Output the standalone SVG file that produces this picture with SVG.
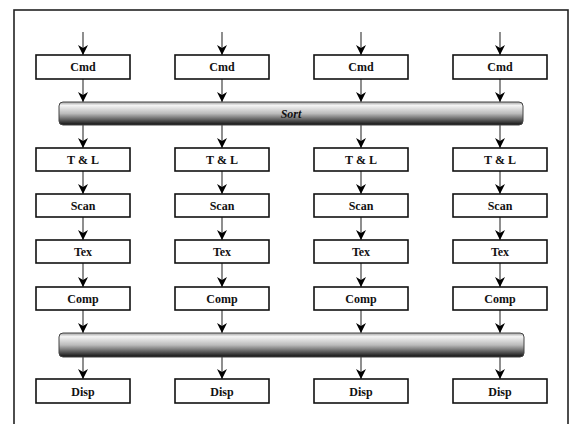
<svg xmlns="http://www.w3.org/2000/svg" width="575" height="424" viewBox="0 0 575 424">
<style>
.box{fill:#fff;stroke:#111;stroke-width:1.6}
.lbl{font-family:'Liberation Serif','DejaVu Serif',serif;font-weight:bold;font-size:12px;fill:#111;text-anchor:middle}
.bar{fill:url(#g);stroke:#444;stroke-width:1}
.c line{stroke:#444;stroke-width:1.2;marker-end:url(#ah)}
</style>
<defs>
<linearGradient id="g" x1="0" y1="0" x2="0" y2="1">
<stop offset="0" stop-color="#a0a0a0"/>
<stop offset="0.15" stop-color="#f4f4f4"/>
<stop offset="0.5" stop-color="#bbbbbb"/>
<stop offset="1" stop-color="#101010"/>
</linearGradient>
<marker id="ah" viewBox="0 0 10 10" refX="10" refY="5" markerWidth="10" markerHeight="10" markerUnits="userSpaceOnUse" orient="auto">
<path d="M0,0 L10,5 L0,10 L3,5 Z" fill="#000"/>
</marker>
</defs>
<rect x="14" y="10" width="554" height="430" fill="#fff" stroke="#222" stroke-width="1.6"/>
<g id="connectors" class="c">
<line x1="83" y1="32" x2="83" y2="55"/><line x1="222" y1="32" x2="222" y2="55"/><line x1="361" y1="32" x2="361" y2="55"/><line x1="500" y1="32" x2="500" y2="55"/>
<line x1="83" y1="79" x2="83" y2="102"/><line x1="222" y1="79" x2="222" y2="102"/><line x1="361" y1="79" x2="361" y2="102"/><line x1="500" y1="79" x2="500" y2="102"/>
<line x1="83" y1="125" x2="83" y2="148"/><line x1="222" y1="125" x2="222" y2="148"/><line x1="361" y1="125" x2="361" y2="148"/><line x1="500" y1="125" x2="500" y2="148"/>
<line x1="83" y1="171" x2="83" y2="194"/><line x1="222" y1="171" x2="222" y2="194"/><line x1="361" y1="171" x2="361" y2="194"/><line x1="500" y1="171" x2="500" y2="194"/>
<line x1="83" y1="217" x2="83" y2="240"/><line x1="222" y1="217" x2="222" y2="240"/><line x1="361" y1="217" x2="361" y2="240"/><line x1="500" y1="217" x2="500" y2="240"/>
<line x1="83" y1="263" x2="83" y2="287"/><line x1="222" y1="263" x2="222" y2="287"/><line x1="361" y1="263" x2="361" y2="287"/><line x1="500" y1="263" x2="500" y2="287"/>
<line x1="83" y1="310" x2="83" y2="333"/><line x1="222" y1="310" x2="222" y2="333"/><line x1="361" y1="310" x2="361" y2="333"/><line x1="500" y1="310" x2="500" y2="333"/>
<line x1="83" y1="357" x2="83" y2="379"/><line x1="222" y1="357" x2="222" y2="379"/><line x1="361" y1="357" x2="361" y2="379"/><line x1="500" y1="357" x2="500" y2="379"/>
</g>
<g id="sort"><rect class="bar" x="59" y="102" width="464" height="23" rx="4"/><text class="lbl" x="291" y="117.5" font-style="italic">Sort</text></g>
<g id="merge"><rect class="bar" x="59" y="333" width="465" height="24" rx="4"/></g>
<g id="cmd1"><rect class="box" x="36" y="55" width="94" height="24"/><text class="lbl" x="83" y="71">Cmd</text></g>
<g id="cmd2"><rect class="box" x="175" y="55" width="94" height="24"/><text class="lbl" x="222" y="71">Cmd</text></g>
<g id="cmd3"><rect class="box" x="314" y="55" width="94" height="24"/><text class="lbl" x="361" y="71">Cmd</text></g>
<g id="cmd4"><rect class="box" x="453" y="55" width="94" height="24"/><text class="lbl" x="500" y="71">Cmd</text></g>
<g id="tl1"><rect class="box" x="36" y="148" width="94" height="23"/><text class="lbl" x="83" y="164">T &amp; L</text></g>
<g id="tl2"><rect class="box" x="175" y="148" width="94" height="23"/><text class="lbl" x="222" y="164">T &amp; L</text></g>
<g id="tl3"><rect class="box" x="314" y="148" width="94" height="23"/><text class="lbl" x="361" y="164">T &amp; L</text></g>
<g id="tl4"><rect class="box" x="453" y="148" width="94" height="23"/><text class="lbl" x="500" y="164">T &amp; L</text></g>
<g id="scan1"><rect class="box" x="36" y="194" width="94" height="23"/><text class="lbl" x="83" y="210">Scan</text></g>
<g id="scan2"><rect class="box" x="175" y="194" width="94" height="23"/><text class="lbl" x="222" y="210">Scan</text></g>
<g id="scan3"><rect class="box" x="314" y="194" width="94" height="23"/><text class="lbl" x="361" y="210">Scan</text></g>
<g id="scan4"><rect class="box" x="453" y="194" width="94" height="23"/><text class="lbl" x="500" y="210">Scan</text></g>
<g id="tex1"><rect class="box" x="36" y="240" width="94" height="23"/><text class="lbl" x="83" y="256">Tex</text></g>
<g id="tex2"><rect class="box" x="175" y="240" width="94" height="23"/><text class="lbl" x="222" y="256">Tex</text></g>
<g id="tex3"><rect class="box" x="314" y="240" width="94" height="23"/><text class="lbl" x="361" y="256">Tex</text></g>
<g id="tex4"><rect class="box" x="453" y="240" width="94" height="23"/><text class="lbl" x="500" y="256">Tex</text></g>
<g id="comp1"><rect class="box" x="36" y="287" width="94" height="23"/><text class="lbl" x="83" y="303">Comp</text></g>
<g id="comp2"><rect class="box" x="175" y="287" width="94" height="23"/><text class="lbl" x="222" y="303">Comp</text></g>
<g id="comp3"><rect class="box" x="314" y="287" width="94" height="23"/><text class="lbl" x="361" y="303">Comp</text></g>
<g id="comp4"><rect class="box" x="453" y="287" width="94" height="23"/><text class="lbl" x="500" y="303">Comp</text></g>
<g id="disp1"><rect class="box" x="36" y="379" width="94" height="24"/><text class="lbl" x="83" y="395.5">Disp</text></g>
<g id="disp2"><rect class="box" x="175" y="379" width="94" height="24"/><text class="lbl" x="222" y="395.5">Disp</text></g>
<g id="disp3"><rect class="box" x="314" y="379" width="94" height="24"/><text class="lbl" x="361" y="395.5">Disp</text></g>
<g id="disp4"><rect class="box" x="453" y="379" width="94" height="24"/><text class="lbl" x="500" y="395.5">Disp</text></g>
</svg>
